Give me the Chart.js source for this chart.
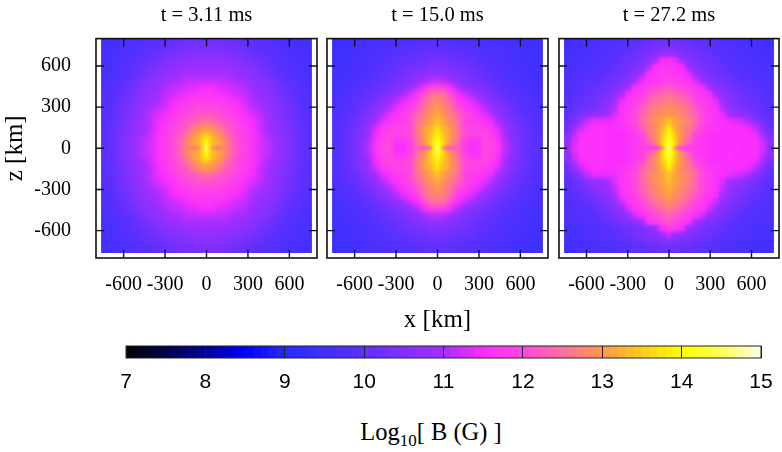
<!DOCTYPE html>
<html>
<head>
<meta charset="utf-8">
<script src="https://cdn.jsdelivr.net/npm/chart.js@4"></script>
<style>
body { margin: 0; background: #fff; width: 782px; height: 452px; overflow: hidden; position: relative; }
canvas { position: absolute; }
#barTitle { position: absolute; left: 231px; width: 400px; top: 418px; text-align: center; font: 24.5px "Liberation Serif"; color: #000; white-space: nowrap; }
#barTitle sub { font-size: 17px; line-height: 0; }
</style>
</head>
<body>
<canvas id="panelA" width="325" height="335" style="left:0;top:0"></canvas>
<canvas id="panelB" width="231" height="335" style="left:325px;top:0"></canvas>
<canvas id="panelC" width="226" height="335" style="left:556px;top:0"></canvas>
<canvas id="colourBar" width="682" height="60" style="left:100px;top:340px"></canvas>
<div id="barTitle">Log<sub>10</sub>[ B (G) ]</div>
<script>
// tick labels
var xTickValues = [-600, -300, 0, 300, 600]
var zTickValues = [600, 300, 0, -300, -600]
var barTicks = [7, 8, 9, 10, 11, 12, 13, 14, 15]
var titles = ['t = 3.11 ms', 't = 15.0 ms', 't = 27.2 ms']

// cell centres in km, coarse grid and the finer one around the origin
var xCells = [-735, -686, -637, -588, -539, -490, -441, -392, -343, -294, -245, -196, -147, -98, -49, 0, 49, 98, 147, 196, 245, 294, 343, 392, 441, 490, 539, 588, 637, 686, 735]
var zCells = [784, 735, 686, 637, 588, 539, 490, 441, 392, 343, 294, 245, 196, 147, 98, 49, 0, -49, -98, -147, -196, -245, -294, -343, -392, -441, -490, -539, -588, -637, -686, -735]
var xCore = [-147, -122.5, -98, -73.5, -49, -24.5, 0, 24.5, 49, 73.5, 98, 122.5, 147]
var zCore = [147, 122.5, 98, 73.5, 49, 24.5, 0, -24.5, -49, -73.5, -98, -122.5, -147]

// Log10 B, in tenths of a decade. Rows run top to bottom
var cellsA = [
[96,96,96,97,97,98,99,99,100,100,101,101,102,102,102,102,102,102,102,101,101,100,100,99,99,98,97,97,96,96,96],
[96,96,97,97,98,99,99,100,100,101,102,103,103,104,104,104,104,104,103,103,102,101,100,100,99,99,98,97,97,96,96],
[96,97,97,98,99,99,100,101,102,103,104,104,105,105,106,106,106,105,105,104,104,103,102,101,100,99,99,98,97,97,96],
[97,97,98,98,99,100,101,102,103,104,105,106,107,107,107,107,107,107,107,106,105,104,103,102,101,100,99,98,98,97,97],
[97,97,98,99,100,101,102,103,105,106,107,107,108,109,109,109,109,109,108,107,107,106,105,103,102,101,100,99,98,97,97],
[97,98,99,99,100,102,103,105,106,107,108,109,110,110,110,110,110,110,110,109,108,107,106,105,103,102,100,99,99,98,97],
[97,98,99,100,101,103,105,106,107,109,110,110,112,112,112,112,112,112,112,110,110,109,107,106,105,103,101,100,99,98,97],
[98,99,100,101,102,104,106,107,108,110,112,112,113,113,115,115,115,113,113,112,112,110,108,107,106,104,102,101,100,99,98],
[98,99,100,102,103,105,107,108,110,112,112,113,115,116,116,117,116,116,115,113,112,112,110,108,107,105,103,102,100,99,98],
[98,99,101,102,104,106,108,109,110,112,115,116,117,118,118,118,118,118,117,116,115,112,110,109,108,106,104,102,101,99,98],
[99,100,101,103,105,107,108,110,112,113,116,117,118,119,120,120,120,119,118,117,116,113,112,110,108,107,105,103,101,100,99],
[99,100,102,104,105,107,109,112,113,115,117,118,120,121,122,122,122,121,120,118,117,115,113,112,109,107,105,104,102,100,99],
[99,100,102,104,106,108,110,112,115,116,118,120,122,122,124,125,124,122,122,120,118,116,115,112,110,108,106,104,102,100,99],
[99,101,103,104,106,108,110,112,115,117,119,121,122,126,128,129,128,126,122,121,119,117,115,112,110,108,106,104,103,101,99],
[99,101,103,105,107,109,110,113,116,118,119,122,124,129,132,133,132,129,124,122,119,118,116,113,110,109,107,105,103,101,99],
[100,101,103,105,107,109,112,113,116,118,120,123,126,131,135,138,135,131,126,123,120,118,116,113,112,109,107,105,103,101,100],
[100,101,103,105,107,109,112,113,116,118,120,123,127,132,136,140,136,132,127,123,120,118,116,113,112,109,107,105,103,101,100],
[100,101,103,105,107,109,112,113,116,118,120,123,126,131,135,138,135,131,126,123,120,118,116,113,112,109,107,105,103,101,100],
[99,101,103,105,107,109,110,113,116,118,119,122,124,129,132,133,132,129,124,122,119,118,116,113,110,109,107,105,103,101,99],
[99,101,103,104,106,108,110,112,115,117,119,121,122,126,128,129,128,126,122,121,119,117,115,112,110,108,106,104,103,101,99],
[99,100,102,104,106,108,110,112,115,116,118,120,122,122,124,125,124,122,122,120,118,116,115,112,110,108,106,104,102,100,99],
[99,100,102,104,105,107,109,112,113,115,117,118,120,121,122,122,122,121,120,118,117,115,113,112,109,107,105,104,102,100,99],
[99,100,101,103,105,107,108,110,112,113,116,117,118,119,120,120,120,119,118,117,116,113,112,110,108,107,105,103,101,100,99],
[98,99,101,102,104,106,108,109,110,112,115,116,117,118,118,118,118,118,117,116,115,112,110,109,108,106,104,102,101,99,98],
[98,99,100,102,103,105,107,108,110,112,112,113,115,116,116,117,116,116,115,113,112,112,110,108,107,105,103,102,100,99,98],
[98,99,100,101,102,104,106,107,108,110,112,112,113,113,115,115,115,113,113,112,112,110,108,107,106,104,102,101,100,99,98],
[97,98,99,100,101,103,105,106,107,109,110,110,112,112,112,112,112,112,112,110,110,109,107,106,105,103,101,100,99,98,97],
[97,98,99,99,100,102,103,105,106,107,108,109,110,110,110,110,110,110,110,109,108,107,106,105,103,102,100,99,99,98,97],
[97,97,98,99,100,101,102,103,105,106,107,107,108,109,109,109,109,109,108,107,107,106,105,103,102,101,100,99,98,97,97],
[97,97,98,98,99,100,101,102,103,104,105,106,107,107,107,107,107,107,107,106,105,104,103,102,101,100,99,98,98,97,97],
[96,97,97,98,99,99,100,101,102,103,104,104,105,105,106,106,106,105,105,104,104,103,102,101,100,99,99,98,97,97,96],
[96,96,97,97,98,99,99,100,100,101,102,103,103,104,104,104,104,104,103,103,102,101,100,100,99,99,98,97,97,96,96]
]
var cellsB = [
[95,95,95,95,96,96,96,97,97,97,98,98,98,99,99,99,99,99,98,98,98,97,97,97,96,96,96,95,95,95,95],
[95,95,95,96,96,97,97,97,98,98,99,99,99,100,100,100,100,100,99,99,99,98,98,97,97,97,96,96,95,95,95],
[95,95,96,96,97,97,98,98,99,99,100,100,101,101,102,102,102,101,101,100,100,99,99,98,98,97,97,96,96,95,95],
[95,96,96,97,97,98,98,99,99,100,101,101,102,102,103,103,103,102,102,101,101,100,99,99,98,98,97,97,96,96,95],
[96,96,96,97,97,98,99,99,100,101,102,103,103,104,105,105,105,104,103,103,102,101,100,99,99,98,97,97,96,96,96],
[96,96,97,97,98,98,99,100,101,102,103,104,105,106,107,107,107,106,105,104,103,102,101,100,99,98,98,97,97,96,96],
[96,96,97,98,98,99,100,101,102,103,104,105,107,109,111,112,111,109,107,105,104,103,102,101,100,99,98,98,97,96,96],
[96,97,97,98,99,100,101,102,103,105,106,108,111,115,119,120,119,115,111,108,106,105,103,102,101,100,99,98,97,97,96],
[97,97,98,99,100,101,102,104,106,108,110,113,116,120,125,126,125,120,116,113,110,108,106,104,102,101,100,99,98,97,97],
[97,98,99,100,101,102,104,106,108,111,114,116,118,124,127,128,127,124,118,116,114,111,108,106,104,102,101,100,99,98,97],
[97,98,99,100,102,104,106,108,111,114,116,118,121,125,128,130,128,125,121,118,116,114,111,108,106,104,102,100,99,98,97],
[98,99,100,101,103,105,108,111,114,116,118,120,124,127,129,132,129,127,124,120,118,116,114,111,108,105,103,101,100,99,98],
[98,99,101,102,104,107,110,114,116,118,118,120,125,128,131,134,131,128,125,120,118,118,116,114,110,107,104,102,101,99,98],
[98,100,101,103,106,109,113,117,118,119,120,120,126,128,131,135,131,128,126,120,120,119,118,117,113,109,106,103,101,100,98],
[99,100,102,104,106,110,115,118,120,119,119,121,125,129,132,136,132,129,125,121,119,119,120,118,115,110,106,104,102,100,99],
[99,100,102,104,107,111,116,119,120,116,116,119,124,129,133,137,133,129,124,119,116,116,120,119,116,111,107,104,102,100,99],
[99,100,102,104,107,112,117,120,120,115,115,118,123,127,132,138,132,127,123,118,115,115,120,120,117,112,107,104,102,100,99],
[99,100,102,104,107,111,116,119,120,116,116,119,124,129,133,137,133,129,124,119,116,116,120,119,116,111,107,104,102,100,99],
[99,100,102,104,106,110,115,118,120,119,119,121,125,129,132,136,132,129,125,121,119,119,120,118,115,110,106,104,102,100,99],
[98,100,101,103,106,109,113,117,118,119,120,120,126,128,131,135,131,128,126,120,120,119,118,117,113,109,106,103,101,100,98],
[98,99,101,102,104,107,110,114,116,118,118,120,125,128,131,134,131,128,125,120,118,118,116,114,110,107,104,102,101,99,98],
[98,99,100,101,103,105,108,111,114,116,118,120,124,127,129,132,129,127,124,120,118,116,114,111,108,105,103,101,100,99,98],
[97,98,99,100,102,104,106,108,111,114,116,118,121,125,128,130,128,125,121,118,116,114,111,108,106,104,102,100,99,98,97],
[97,98,99,100,101,102,104,106,108,111,114,116,118,124,127,128,127,124,118,116,114,111,108,106,104,102,101,100,99,98,97],
[97,97,98,99,100,101,102,104,106,108,110,113,116,120,125,126,125,120,116,113,110,108,106,104,102,101,100,99,98,97,97],
[96,97,97,98,99,100,101,102,103,105,106,108,111,115,119,120,119,115,111,108,106,105,103,102,101,100,99,98,97,97,96],
[96,96,97,98,98,99,100,101,102,103,104,105,107,109,111,112,111,109,107,105,104,103,102,101,100,99,98,98,97,96,96],
[96,96,97,97,98,98,99,100,101,102,103,104,105,106,107,107,107,106,105,104,103,102,101,100,99,98,98,97,97,96,96],
[96,96,96,97,97,98,99,99,100,101,102,103,103,104,105,105,105,104,103,103,102,101,100,99,99,98,97,97,96,96,96],
[95,96,96,97,97,98,98,99,99,100,101,101,102,102,103,103,103,102,102,101,101,100,99,99,98,98,97,97,96,96,95],
[95,95,96,96,97,97,98,98,99,99,100,100,101,101,102,102,102,101,101,100,100,99,99,98,98,97,97,96,96,95,95],
[95,95,95,96,96,97,97,97,98,98,99,99,99,100,100,100,100,100,99,99,99,98,98,97,97,97,96,96,95,95,95]
]
var cellsC = [
[95,96,96,96,97,97,98,98,99,99,100,100,101,102,102,102,102,101,101,100,100,99,99,98,98,97,97,96,96,96,95],
[95,96,96,97,97,98,98,99,99,100,101,102,103,104,104,104,104,103,103,102,101,100,99,99,98,98,97,97,96,96,95],
[96,96,97,97,98,98,99,99,100,101,102,103,104,106,108,108,107,105,104,103,102,101,100,99,99,98,98,97,97,96,96],
[96,97,97,98,98,99,99,100,101,102,103,104,106,110,116,116,114,109,106,104,103,102,101,100,99,99,98,98,97,97,96],
[97,97,98,98,99,99,100,101,102,103,104,106,110,116,117,117,116,115,109,106,104,103,102,101,100,99,99,98,98,97,97],
[97,98,98,99,99,100,101,102,103,104,106,110,115,116,118,118,117,116,114,109,106,104,103,102,101,100,99,99,98,98,97],
[98,98,99,100,100,101,102,103,104,106,110,114,116,117,118,119,118,117,116,113,109,106,104,103,102,101,100,100,99,98,98],
[98,99,100,100,101,102,103,105,107,110,115,117,118,120,121,122,121,120,118,117,115,110,107,105,103,102,101,100,100,99,98],
[98,99,100,101,102,103,105,107,110,115,117,118,121,123,124,125,124,123,121,118,117,115,110,107,105,103,102,101,100,99,98],
[99,100,101,102,103,104,106,109,114,117,118,120,123,125,126,127,126,125,123,120,118,117,114,109,106,104,103,102,101,100,99],
[99,101,102,103,104,105,108,111,116,117,119,122,125,127,128,129,128,127,125,122,119,117,116,111,108,105,104,103,102,101,99],
[100,102,104,106,107,108,110,113,116,118,120,123,126,128,129,130,129,128,126,123,120,118,116,114,110,108,107,105,103,101,100],
[101,104,108,112,114,114,114,115,116,118,120,124,127,129,131,134,131,129,127,124,120,118,116,115,114,113,112,110,106,103,101],
[103,108,112,115,116,116,115,115,116,117,119,123,127,129,131,135,131,129,127,123,119,117,116,115,115,115,115,114,111,106,102],
[105,111,115,116,116,116,115,115,115,116,118,120,124,128,132,136,132,128,124,120,118,116,115,115,115,115,115,115,114,110,104],
[107,113,116,116,116,116,115,115,115,116,117,119,122,127,133,138,133,127,122,119,117,116,115,115,115,115,115,115,115,112,106],
[108,114,116,116,116,116,115,115,115,116,117,118,120,122,128,142,128,122,120,118,117,116,115,115,115,116,115,115,116,113,107],
[107,113,116,116,116,116,115,115,115,116,117,119,122,127,133,138,133,127,122,119,117,116,115,115,116,115,115,115,115,112,106],
[105,111,115,116,116,116,115,115,115,116,118,120,125,128,132,136,132,128,125,120,118,116,115,115,115,115,115,115,114,110,104],
[103,108,112,115,116,115,115,115,116,117,119,123,127,129,131,135,131,129,127,123,119,117,116,115,115,115,115,114,111,106,102],
[101,104,108,112,114,114,114,114,116,118,120,124,127,129,131,134,131,129,127,124,120,118,116,115,114,113,112,110,106,103,101],
[100,102,104,106,107,108,110,113,116,118,120,124,127,129,131,133,131,129,127,124,120,118,116,113,110,108,107,105,103,101,100],
[99,101,102,104,106,107,109,112,116,118,120,123,126,128,130,132,130,128,126,123,120,118,116,112,108,106,105,103,102,100,99],
[99,100,101,102,104,105,107,110,115,117,119,122,125,127,129,131,129,127,125,122,119,117,115,110,107,105,104,102,101,100,99],
[98,99,100,101,102,104,105,108,112,116,118,120,123,126,127,129,127,126,123,120,118,116,112,108,105,104,102,101,100,99,98],
[98,99,99,100,101,102,104,106,108,113,117,118,121,123,125,127,125,123,121,118,117,113,108,106,104,102,101,100,99,99,98],
[98,98,99,99,100,101,103,104,106,108,113,116,118,120,122,124,122,120,118,116,113,108,106,104,103,101,100,99,99,98,98],
[97,98,98,99,99,100,101,102,104,105,107,110,116,118,120,122,120,118,116,110,107,105,104,102,101,100,99,99,98,98,97],
[97,97,97,98,98,99,99,100,101,102,103,104,106,108,115,118,117,115,108,106,104,103,102,101,100,99,99,98,97,97,97],
[96,97,97,98,98,99,99,100,101,102,103,104,105,106,108,112,108,106,105,104,103,102,101,100,99,99,98,98,97,97,96],
[96,96,96,97,97,98,98,99,100,100,101,102,103,103,104,105,104,103,103,102,101,100,100,99,98,98,97,97,96,96,96],
[95,96,96,96,97,97,98,98,99,99,100,100,101,101,102,102,102,101,101,100,100,99,99,98,98,97,97,96,96,96,95]
]

var coreA = [
[122,124,126,127,129,130,130,130,129,127,126,124,122],
[124,126,128,129,130,131,132,131,130,129,128,126,124],
[125,127,129,130,132,133,135,133,132,130,129,127,125],
[126,128,130,131,133,135,138,135,133,131,130,128,126],
[127,129,131,132,133,136,140,136,133,132,131,129,127],
[127,130,131,132,133,136,142,136,133,132,131,130,127],
[127,128,126,126,130,136,146,136,130,126,126,128,127],
[127,130,131,132,133,136,142,136,133,132,131,130,127],
[127,129,131,132,133,136,140,136,133,132,131,129,127],
[126,128,130,131,133,135,138,135,133,131,130,128,126],
[125,127,129,130,132,133,135,133,132,130,129,127,125],
[124,126,128,129,130,131,132,131,130,129,128,126,124],
[122,124,126,127,129,130,130,130,129,127,126,124,122]
]
var coreB = [
[126,128,130,132,133,135,137,135,133,132,130,128,126],
[126,128,130,132,133,135,138,135,133,132,130,128,126],
[126,128,130,132,134,136,139,136,134,132,130,128,126],
[125,128,130,132,134,137,141,137,134,132,130,128,125],
[125,127,129,132,135,138,142,138,135,132,129,127,125],
[124,126,128,131,135,139,144,139,135,131,128,126,124],
[123,122,122,122,126,138,146,138,126,122,122,122,123],
[124,126,128,131,135,139,144,139,135,131,128,126,124],
[125,127,129,132,135,138,142,138,135,132,129,127,125],
[125,128,130,132,134,137,141,137,134,132,130,128,125],
[126,128,130,132,134,136,139,136,134,132,130,128,126],
[126,128,130,132,133,135,138,135,133,132,130,128,126],
[126,128,130,132,133,135,137,135,133,132,130,128,126]
]
var coreC = [
[126,127,128,130,132,135,139,135,132,130,128,127,126],
[126,127,129,131,133,136,140,136,133,131,129,127,126],
[125,127,129,131,134,137,141,137,134,131,129,127,125],
[124,126,129,131,134,138,142,138,134,131,129,126,124],
[123,125,128,131,135,139,143,139,135,131,128,125,123],
[121,123,126,130,135,140,145,140,135,130,126,123,121],
[118,118,119,120,126,138,147,138,126,120,119,118,118],
[121,123,126,130,135,140,145,140,135,130,126,123,121],
[123,125,128,131,135,139,143,139,135,131,128,125,123],
[124,126,129,131,134,138,142,138,134,131,129,126,124],
[125,127,129,131,134,137,141,137,134,131,129,127,125],
[126,127,129,131,133,136,140,136,133,131,129,127,126],
[126,127,128,130,132,135,139,135,132,130,128,127,126]
]

// colour bar steps
var barLevels = [7.05,7.15,7.25,7.35,7.45,7.55,7.65,7.75,7.85,7.95,8.05,8.15,8.25,8.35,8.45,8.55,8.65,8.75,8.85,8.95,9.05,9.15,9.25,9.35,9.45,9.55,9.65,9.75,9.85,9.95,10.05,10.15,10.25,10.35,10.45,10.55,10.65,10.75,10.85,10.95,11.05,11.15,11.25,11.35,11.45,11.55,11.65,11.75,11.85,11.95,12.05,12.15,12.25,12.35,12.45,12.55,12.65,12.75,12.85,12.95,13.05,13.15,13.25,13.35,13.45,13.55,13.65,13.75,13.85,13.95,14.05,14.15,14.25,14.35,14.45,14.55,14.65,14.75,14.85,14.95]

// palette stops
var paletteLevels = [7, 8, 8.5, 9, 9.5, 10, 10.5, 11, 11.5, 12, 12.5, 13, 13.5, 14, 14.5, 15]
var paletteColours = [[0,0,0],[0,0,150],[0,0,255],[40,40,255],[62,48,255],[92,48,255],[130,48,255],[165,45,255],[250,45,255],[255,70,225],[255,110,160],[255,150,75],[255,205,25],[255,255,0],[255,255,80],[255,255,240]]

function colourOf(v) {
    let i = 0
    while (i < paletteLevels.length - 2 && v > paletteLevels[i + 1]) i++
    let t = Math.min(1, Math.max(0, (v - paletteLevels[i]) / (paletteLevels[i + 1] - paletteLevels[i])))
    let a = paletteColours[i], b = paletteColours[i + 1]
    return 'rgb(' + [0, 1, 2].map(k => Math.round(a[k] + (b[k] - a[k]) * t)).join(',') + ')'
}

function cellDataset(table, xs, zs, radius) {
    let points = [], colours = []
    zs.forEach((z, r) => xs.forEach((x, c) => {
        points.push({ x: x, y: z })
        colours.push(colourOf(table[r][c] / 10))
    }))
    return { data: points, pointStyle: 'rect', pointRadius: radius, pointHoverRadius: radius, pointBorderWidth: 0, pointBackgroundColor: colours }
}

function soften(chart, px) {
    let ctx = chart.ctx, a = chart.chartArea, sx = chart.scales.x, sy = chart.scales.y
    let left = sx.getPixelForValue(-759.5), right = sx.getPixelForValue(759.5), bottom = sy.getPixelForValue(-759.5)
    ctx.save()
    ctx.beginPath()
    ctx.rect(left, a.top, right - left, bottom - a.top)
    ctx.clip()
    ctx.filter = 'blur(' + px + 'px)'
    ctx.drawImage(chart.canvas, 0, 0)
    ctx.restore()
}

// datasets draw last to first, so the coarse cells (index 1) go down first
var framePlugin = {
    id: 'frame',
    afterDatasetDraw(chart, args, opts) {
        if (args.index === 1) soften(chart, opts.coarseBlur)
    },
    afterDatasetsDraw(chart) {
        soften(chart, 0.8)
        let ctx = chart.ctx, a = chart.chartArea, sx = chart.scales.x, sy = chart.scales.y
        ctx.save()
        ctx.strokeStyle = '#111'
        ctx.lineWidth = 1.4
        ctx.beginPath()
        xTickValues.forEach(v => {
            let p = sx.getPixelForValue(v)
            ctx.moveTo(p, a.top); ctx.lineTo(p, a.top + 8)
            ctx.moveTo(p, a.bottom); ctx.lineTo(p, a.bottom - 8)
        })
        zTickValues.forEach(v => {
            let p = sy.getPixelForValue(v)
            ctx.moveTo(a.left, p); ctx.lineTo(a.left + 8, p)
            ctx.moveTo(a.right, p); ctx.lineTo(a.right - 8, p)
        })
        ctx.stroke()
        ctx.lineWidth = 1.6
        ctx.strokeRect(a.left, a.top, a.right - a.left, a.bottom - a.top)
        ctx.restore()
    }
}

var serif = 'Liberation Serif'

function makePanel(id, idx, table, core, leftGap, rightGap, showZ, showX, coarseBlur) {
    return new Chart(document.getElementById(id).getContext('2d'), {
        type: 'scatter',
        data: { datasets: [cellDataset(core, xCore, zCore, 2.8), cellDataset(table, xCells, zCells, 5.4)] },
        plugins: [framePlugin],
        options: {
            responsive: false,
            animation: false,
            events: [],
            layout: { autoPadding: false, padding: { left: 0, right: rightGap, top: 0, bottom: 0 } },
            plugins: {
                legend: { display: false },
                tooltip: { enabled: false },
                frame: { coarseBlur: coarseBlur },
                title: {
                    display: true, text: titles[idx], fullSize: false, color: '#000',
                    font: { family: serif, size: 20.5, weight: 'normal' },
                    padding: { top: 3, bottom: 11 }
                }
            },
            scales: {
                x: {
                    type: 'linear', min: -800, max: 800,
                    grid: { display: false },
                    border: { display: false },
                    afterBuildTicks: s => { s.ticks = xTickValues.map(v => ({ value: v })) },
                    afterFit: s => { s.height = 77 },
                    ticks: { color: '#000', padding: 7, autoSkip: false, maxRotation: 0, font: { family: serif, size: 20 }, callback: v => String(v) },
                    title: { display: showX, text: 'x [km]', color: '#000', font: { family: serif, size: 25 }, padding: { top: 0, bottom: 0 } }
                },
                y: {
                    type: 'linear', min: -800, max: 800,
                    grid: { display: false },
                    border: { display: false },
                    afterBuildTicks: s => { s.ticks = zTickValues.map(v => ({ value: v })) },
                    afterFit: s => { s.width = leftGap },
                    ticks: { display: showZ, color: '#000', padding: 17, autoSkip: false, font: { family: serif, size: 20 }, callback: v => String(v) },
                    title: { display: showZ, text: 'z [km]', color: '#000', font: { family: serif, size: 25 }, padding: 0 }
                }
            }
        }
    })
}

makePanel('panelA', 0, cellsA, coreA, 96, 8, true, false, 3)
makePanel('panelB', 1, cellsB, coreB, 2, 8, false, true, 2)
makePanel('panelC', 2, cellsC, coreC, 3, 3, false, false, 1.5)

var barFrame = {
    id: 'barFrame',
    afterDatasetsDraw(chart) {
        let ctx = chart.ctx, a = chart.chartArea
        ctx.save()
        ctx.strokeStyle = '#222'
        ctx.lineWidth = 1
        ctx.strokeRect(a.left, a.top, a.right - a.left, a.bottom - a.top)
        ctx.restore()
    }
}

new Chart(document.getElementById('colourBar').getContext('2d'), {
    type: 'bar',
    data: {
        datasets: [{
            data: barLevels.map(v => ({ x: v, y: 1 })),
            backgroundColor: barLevels.map(colourOf),
            borderWidth: 0,
            barPercentage: 1,
            categoryPercentage: 1
        }]
    },
    plugins: [barFrame],
    options: {
        responsive: false,
        animation: false,
        events: [],
        layout: { autoPadding: false, padding: { left: 26, right: 21, top: 6, bottom: 0 } },
        plugins: { legend: { display: false }, tooltip: { enabled: false } },
        scales: {
            x: {
                type: 'linear', min: 7, max: 15,
                offset: false,
                grid: { color: '#222', lineWidth: 1, drawTicks: false, offset: false, z: 1 },
                border: { display: false },
                // the last label's half width eats into the axis, so pull it back
                afterFit: s => { s.height = 42; s.paddingRight = 0; s.paddingLeft = 0 },
                afterBuildTicks: s => { s.ticks = barTicks.map(v => ({ value: v })) },
                ticks: { color: '#000', padding: 12, autoSkip: false, maxRotation: 0, font: { family: 'Liberation Sans', size: 21 }, callback: v => String(v) }
            },
            y: { type: 'linear', min: 0, max: 1, display: false }
        }
    }
})
</script>
</body>
</html>
